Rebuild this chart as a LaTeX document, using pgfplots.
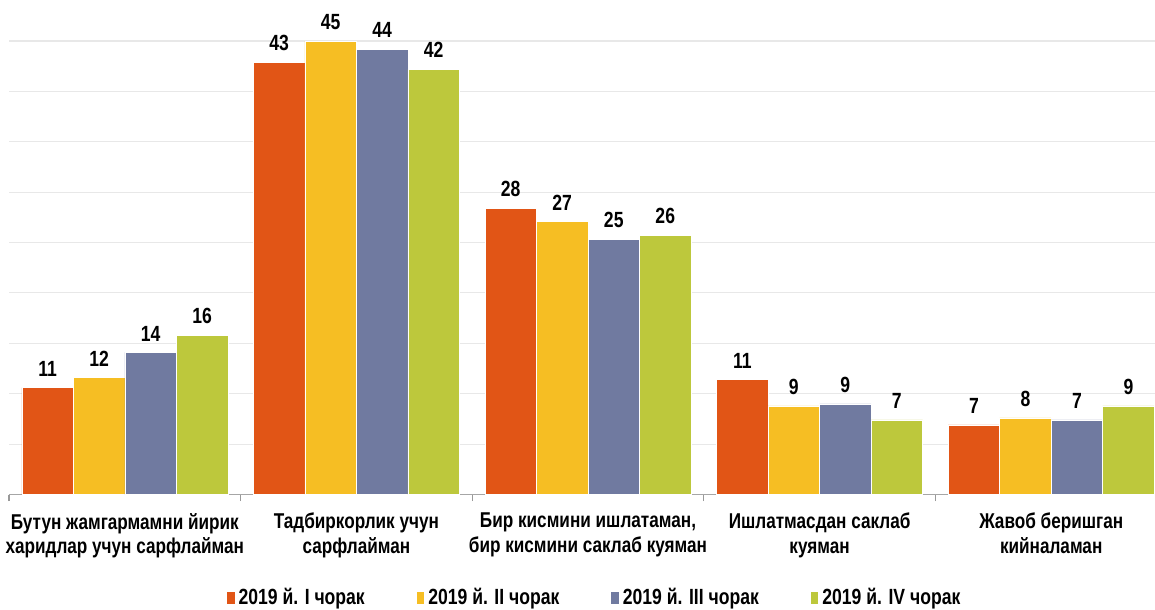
\documentclass[border=0pt]{standalone}
\usepackage{fontspec}
\setmainfont{Liberation Sans}[FakeStretch=0.8]
\usepackage{pgfplots}
\pgfplotsset{compat=1.18}

\definecolor{qone}{RGB}{225,85,22}
\definecolor{qtwo}{RGB}{246,190,35}
\definecolor{qthree}{RGB}{112,122,160}
\definecolor{qfour}{RGB}{189,200,60}

\begin{document}
\begin{tikzpicture}
\begin{axis}[
    ybar=0pt,
    bar width=1.03cm,
    scale only axis,
    width=23.16cm,
    height=9.07cm,
    xmin=-0.5, xmax=4.5,
    ymin=0, ymax=45,
    axis x line*=bottom,
    axis y line*=left,
    y axis line style={draw=none},
    x axis line style={draw=gray!70, line width=0.6pt},
    ytick={0,5,...,45},
    yticklabels={},
    ytick style={draw=none},
    ymajorgrids,
    grid style={draw=black!9, line width=0.6pt},
    xtick={0,1,2,3,4},
    xticklabels={
        {Бутун жамгармамни йирик\\харидлар учун сарфлайман},
        {Тадбиркорлик учун\\сарфлайман},
        {Бир кисмини ишлатаман,\\бир кисмини саклаб куяман},
        {Ишлатмасдан саклаб\\куяман},
        {Жавоб беришган\\кийналаман}},
    x tick label style={align=center, font=\bfseries\fontsize{12.2}{13.8}\selectfont, yshift=-0.1cm},
    xtick style={draw=none},
    extra x ticks={-0.5,0.5,1.5,2.5,3.5,4.5},
    extra x tick labels={},
    extra x tick style={grid=none, tick align=outside, major tick length=0.13cm,
        xtick style={draw=gray!80, line width=0.7pt}},
    nodes near coords={\pgfmathprintnumber[fixed,precision=0,assume math mode=true]{\pgfplotspointmeta}},
    every node near coord/.append style={font=\bfseries\fontsize{12.5}{14}\selectfont, anchor=south, yshift=3pt},
    /pgf/number format/assume math mode=true,
    legend columns=4,
    legend style={at={(0.506,0)}, anchor=center, yshift=-2.07cm, draw=none,
        font=\bfseries\fontsize{12.5}{14}\selectfont,
        /tikz/every even column/.append style={column sep=0.95cm}},
    legend image code/.code={\fill[#1] (0cm,-0.12cm) rectangle (0.17cm,0.14cm);},
]
\addplot[fill=qone, draw=white, line width=0.3pt] coordinates {(0,10.6) (1,42.9) (2,28.4) (3,11.4) (4,6.9)};
\addplot[fill=qtwo, draw=white, line width=0.3pt] coordinates {(0,11.6) (1,45.0) (2,27.1) (3,8.8) (4,7.6)};
\addplot[fill=qthree, draw=white, line width=0.3pt] coordinates {(0,14.1) (1,44.2) (2,25.3) (3,9.0) (4,7.4)};
\addplot[fill=qfour, draw=white, line width=0.3pt] coordinates {(0,15.8) (1,42.2) (2,25.7) (3,7.4) (4,8.8)};
\legend{2019 й. I чорак, 2019 й. II чорак, 2019 й. III чорак, 2019 й. IV чорак}
\end{axis}
\pgfresetboundingbox
\path[use as bounding box] (-0.18cm,-2.29cm) rectangle (22.92cm,9.89cm);
\end{tikzpicture}
\end{document}
